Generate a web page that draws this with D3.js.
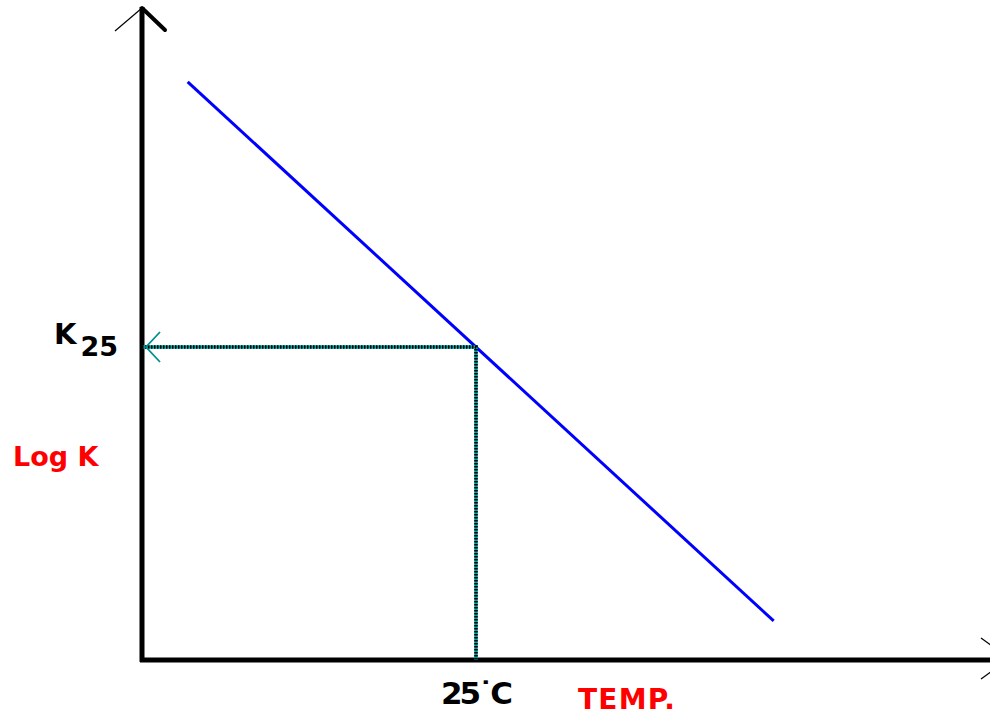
<!DOCTYPE html>
<html>
<head>
<meta charset="utf-8">
<script src="https://cdn.jsdelivr.net/npm/d3@7"></script>
<style>
  body { margin: 0; background: #fff; }
  svg { display: block; }
</style>
</head>
<body>
<div id="chart"></div>
<script>
// values (arbitrary units, no ticks shown)
const tempC = [3.5, 47.2];
const logK = [9.22, 0.64];
const refTemp = [25];
const refLogK = [5.0];

const width = 990, height = 715;
const x0 = 142, yBase = 660;

let svg = d3.select("#chart").append("svg")
    .attr("width", width)
    .attr("height", height);

let x = d3.scaleLinear().domain([0, 50]).range([x0, 810]);
let y = d3.scaleLinear().domain([0, 10]).range([yBase, 34]);

let line = d3.line()
    .x(d => x(d[0]))
    .y(d => y(d[1]));

// axes
svg.append("line")
    .attr("x1", x0).attr("y1", yBase + 2)
    .attr("x2", x0).attr("y2", 7)
    .attr("stroke", "#000").attr("stroke-width", 5);
svg.append("line")
    .attr("x1", x0 - 2).attr("y1", yBase)
    .attr("x2", width).attr("y2", yBase)
    .attr("stroke", "#000").attr("stroke-width", 5);

// y arrow head
svg.append("line")
    .attr("x1", x0).attr("y1", 8).attr("x2", 165).attr("y2", 30)
    .attr("stroke", "#000").attr("stroke-width", 4).attr("stroke-linecap", "round");
svg.append("line")
    .attr("x1", x0).attr("y1", 8).attr("x2", 115).attr("y2", 31)
    .attr("stroke", "#000").attr("stroke-width", 1.2);

// x arrow head
svg.append("line")
    .attr("x1", 981).attr("y1", 638).attr("x2", 992).attr("y2", 646)
    .attr("stroke", "#000").attr("stroke-width", 1.2);
svg.append("line")
    .attr("x1", 981).attr("y1", 679).attr("x2", 992).attr("y2", 671)
    .attr("stroke", "#000").attr("stroke-width", 1.2);

// blue line
let pts = tempC.map((t, i) => [t, logK[i]]);
svg.append("path")
    .datum(pts)
    .attr("d", line)
    .attr("fill", "none")
    .attr("stroke", "#0000ff")
    .attr("stroke-width", 3)
    .attr("stroke-linecap", "square");

// green guide (teal with black dots)
let guide = [[0, refLogK[0]], [refTemp[0], refLogK[0]], [refTemp[0], 0]];
svg.append("path")
    .datum(guide)
    .attr("d", line)
    .attr("fill", "none")
    .attr("stroke", "#00a0a0")
    .attr("stroke-width", 3.5);
svg.append("path")
    .datum(guide)
    .attr("d", line)
    .attr("fill", "none")
    .attr("stroke", "#000")
    .attr("stroke-width", 3.5)
    .attr("stroke-dasharray", "1.5,1.5");

// green arrow head
let ky = y(refLogK[0]);
svg.append("path")
    .attr("d", `M${x0 + 18},${ky - 15} L${x0 + 4},${ky} L${x0 + 18},${ky + 15}`)
    .attr("fill", "none")
    .attr("stroke", "#009090")
    .attr("stroke-width", 1.8);

// labels
let k = svg.append("text")
    .attr("x", 54).attr("y", ky - 3)
    .style("font-family", "DejaVu Sans")
    .style("font-weight", "bold")
    .style("font-size", "29px")
    .attr("fill", "#000");
k.append("tspan").text("K");
k.append("tspan").attr("dy", 12).attr("dx", 4).style("font-size", "27px").text("25");

svg.append("text")
    .attr("x", 13).attr("y", 466)
    .style("font-family", "DejaVu Sans")
    .style("font-weight", "bold")
    .style("font-size", "27px")
    .attr("fill", "#ff0000")
    .text("Log K");

svg.append("text")
    .attr("x", 441).attr("y", 704)
    .style("font-family", "DejaVu Sans")
    .style("font-weight", "bold")
    .style("font-size", "31px")
    .attr("textLength", 72)
    .attr("fill", "#000")
    .text("25˙C");

svg.append("text")
    .attr("x", 578).attr("y", 709)
    .style("font-family", "DejaVu Sans")
    .style("font-weight", "bold")
    .style("font-size", "28px")
    .attr("textLength", 97)
    .attr("fill", "#ff0000")
    .text("TEMP.");
</script>
</body>
</html>
